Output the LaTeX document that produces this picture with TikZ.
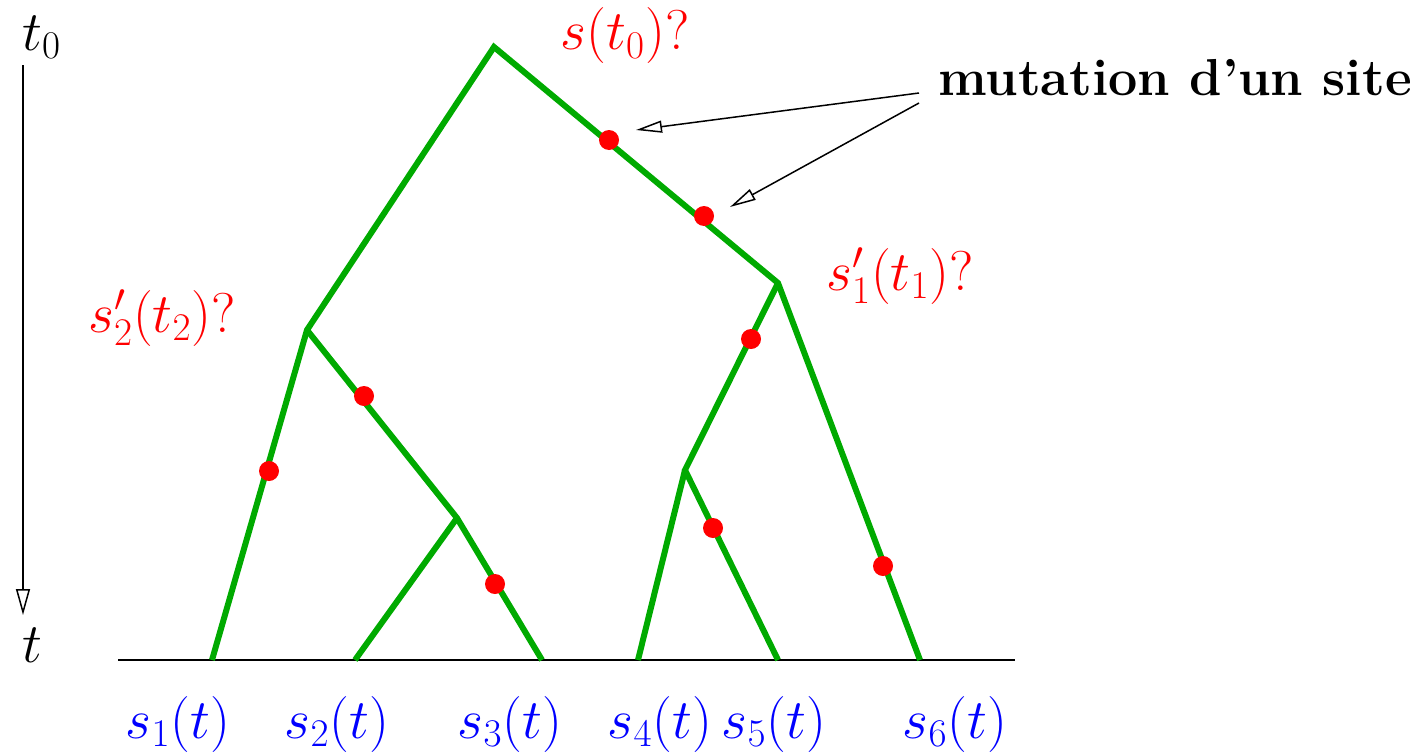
\RequirePackage{fix-cm}
\documentclass[tikz,border=0pt]{standalone}
\usetikzlibrary{arrows.meta}
\definecolor{brgreen}{RGB}{0,170,0}
\begin{document}
\begin{tikzpicture}[x=0.5pt,y=-0.5pt,
  branch/.style={brgreen,line width=3pt,line cap=butt,line join=miter},
  mut/.style={fill=red,draw=none,circle,minimum size=10pt,inner sep=0pt},
  thinline/.style={black,line width=0.75pt},
  openarrow/.style={-{Triangle[open,length=13pt,width=6pt]}},
  axisarrow/.style={-{Triangle[open,length=13pt,width=7pt]}},
  lbl/.style={inner sep=0pt,font=\fontsize{28}{34}\selectfont},
  blbl/.style={inner sep=0pt,font=\fontsize{26}{31}\selectfont\bfseries}]
\useasboundingbox (0,0) rectangle (1428,755);
% tree vertices
\coordinate (root) at (494,47);
\coordinate (n1) at (778,283);
\coordinate (n2) at (307,330);
\coordinate (n3) at (457,518);
\coordinate (n4) at (685,470);
\coordinate (l1) at (212,660);
\coordinate (l2) at (355,660);
\coordinate (l3) at (542,660);
\coordinate (l4) at (638,660);
\coordinate (l5) at (778,660);
\coordinate (l6) at (920,660);
\coordinate (b0) at (118,660);
\coordinate (b1) at (1015,660);
% baseline
\draw[thinline] (b0) -- (b1);
% time axis
\coordinate (ta) at (23,65);
\coordinate (tb) at (23,615);
\draw[thinline,axisarrow] (ta) -- (tb);
\node[lbl,anchor=base west] (tz) at (22,50) {$t_0$};
\node[lbl,anchor=base west] (tt) at (22,662) {$t$};
% branches
\draw[branch] (l1) -- (n2) -- (root) -- (n1) -- (l6);
\draw[branch] (n2) -- (n3) -- (l3);
\draw[branch] (n3) -- (l2);
\draw[branch] (n1) -- (n4) -- (l5);
\draw[branch] (n4) -- (l4);
% mutations
\node[mut] (m1) at (609,140) {};
\node[mut] (m2) at (704,216) {};
\node[mut] (m3) at (751,339) {};
\node[mut] (m4) at (364,396) {};
\node[mut] (m5) at (269,471) {};
\node[mut] (m6) at (495,584) {};
\node[mut] (m7) at (713,528) {};
\node[mut] (m8) at (883,566) {};
% labels
\node[lbl,text=red] (q0) at (625,36) {$s(t_0)?$};
\node[lbl,text=red] (q1) at (900,276) {$s'_1(t_1)?$};
\node[lbl,text=red] (q2) at (162,318) {$s'_2(t_2)?$};
\node[blbl,anchor=base west] (mt) at (938,95) {mutation d'un site};
\coordinate (a1) at (919,93);
\coordinate (a2) at (919,103);
\coordinate (h1) at (636,130);
\coordinate (h2) at (730,207);
\draw[thinline,openarrow] (a1) -- (h1);
\draw[thinline,openarrow] (a2) -- (h2);
% leaf labels
\node[lbl,text=blue] (s1) at (178,724) {$s_1(t)$};
\node[lbl,text=blue] (s2) at (337,724) {$s_2(t)$};
\node[lbl,text=blue] (s3) at (510,724) {$s_3(t)$};
\node[lbl,text=blue] (s4) at (660,724) {$s_4(t)$};
\node[lbl,text=blue] (s5) at (774,724) {$s_5(t)$};
\node[lbl,text=blue] (s6) at (955,724) {$s_6(t)$};
\end{tikzpicture}
\end{document}
